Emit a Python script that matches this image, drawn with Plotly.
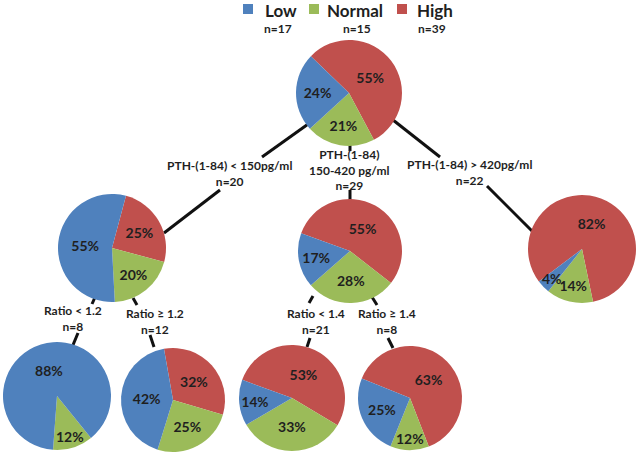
import math
import plotly.graph_objects as go

# ---------------- data ----------------
groups = ["Low", "Normal", "High"]
group_n = [17, 15, 39]

root_pct = [24, 21, 55]          # all patients
pth_low_pct = [55, 20, 25]       # PTH-(1-84) < 150
pth_mid_pct = [17, 28, 55]       # PTH-(1-84) 150-420
pth_high_pct = [4, 14, 82]       # PTH-(1-84) > 420
ratio_lt12_pct = [88, 12, 0]     # Ratio < 1.2
ratio_ge12_pct = [42, 25, 32]    # Ratio >= 1.2
ratio_lt14_pct = [14, 33, 53]    # Ratio < 1.4
ratio_ge14_pct = [25, 12, 63]    # Ratio >= 1.4

branch_labels = [
    "PTH-(1-84) < 150pg/ml<br>n=20",
    "PTH-(1-84)<br>150-420 pg/ml<br>n=29",
    "PTH-(1-84) > 420pg/ml<br>n=22",
    "Ratio < 1.2<br>n=8",
    "Ratio ≥ 1.2<br>n=12",
    "Ratio < 1.4<br>n=21",
    "Ratio ≥ 1.4<br>n=8",
]

# ---------------- style / layout ----------------
W, H = 637, 455
colors = {"Low": "#4F81BD", "Normal": "#9BBB59", "High": "#C0504D"}
FONT = "Lato, 'Open Sans', 'DejaVu Sans', sans-serif"
TXT = "#1f1f1f"
PCT_FONT = dict(family=FONT, size=14, color=TXT, weight="bold")

def px(x):
    return x / W

def py(y):
    return 1 - y / H

# node layout in pixels: (values, cx, cy, r, rotation)
nodes = [
    (root_pct, 349, 93, 53, 314),
    (pth_low_pct, 112, 248, 54, 15),
    (pth_mid_pct, 350, 251, 52, 290),
    (pth_high_pct, 582, 249, 54, 233),
    (ratio_lt12_pct, 57, 396, 54, 141),
    (ratio_ge12_pct, 173, 400, 52, 350),
    (ratio_lt14_pct, 292, 398, 53, 290),
    (ratio_ge14_pct, 410, 398, 52, 292),
]

fig = go.Figure()
annotations = []
for vals, cx, cy, r, rot in nodes:
    order = ["High", "Normal", "Low"]
    v = [vals[groups.index(g)] for g in order]
    labs = [g for g, val in zip(order, v) if val > 0]
    vv = [val for val in v if val > 0]
    total = sum(vv)
    texts = []
    ang = rot
    for val in vv:
        span = 360.0 * val / total
        mid = math.radians(ang + span / 2)
        ang += span
        if val <= 12:
            # thin slice: label kept full size, placed along the slice bisector
            texts.append("")
            annotations.append(dict(
                text=f"{val}%", xref="paper", yref="paper",
                x=px(cx + 0.78 * r * math.sin(mid)), y=py(cy - 0.78 * r * math.cos(mid)),
                xanchor="center", yanchor="middle", showarrow=False, font=PCT_FONT))
        else:
            texts.append(f"{val}%")
    fig.add_trace(go.Pie(
        labels=labs, values=vv, sort=False, direction="clockwise",
        rotation=rot, text=texts,
        marker=dict(colors=[colors[l] for l in labs], line=dict(width=0)),
        texttemplate="%{text}", textposition="inside",
        insidetextorientation="horizontal",
        textfont=PCT_FONT,
        domain=dict(x=[px(cx - r), px(cx + r)], y=[py(cy + r), py(cy - r)]),
        hoverinfo="skip", showlegend=False,
    ))

# connector segments (pixel coords)
segments = [
    ((311, 122), (262, 157)), ((220, 190), (164, 233)),
    ((350, 143), (350, 151)), ((350, 190), (350, 205)),
    ((393, 120), (440, 157)), ((487, 186), (532, 231)),
    ((96, 295), (92, 304)), ((78, 333), (73, 345)),
    ((133, 298), (137, 305)), ((150, 335), (154, 347)),
    ((313, 296), (309, 303)), ((310, 338), (307, 347)),
    ((372, 297), (377, 305)), ((388, 338), (393, 348)),
]
shapes = []
for (x0, y0), (x1, y1) in segments:
    shapes.append(dict(type="line", xref="paper", yref="paper",
                       x0=px(x0), y0=py(y0), x1=px(x1), y1=py(y1),
                       line=dict(color="#111111", width=3), layer="below"))

# legend squares
legend_sq = [(243, 4), (309, 4), (397, 4)]
for g, (sx, sy) in zip(groups, legend_sq):
    shapes.append(dict(type="rect", xref="paper", yref="paper",
                       x0=px(sx), x1=px(sx + 10), y0=py(sy + 10), y1=py(sy),
                       fillcolor=colors[g], line=dict(width=0)))

legend_txt_x = [263, 325, 415]
n_x = [278, 357, 432]
for g, n, tx, nx in zip(groups, group_n, legend_txt_x, n_x):
    annotations.append(dict(text=g, x=px(tx), y=py(10), xref="paper", yref="paper",
                            xanchor="left", yanchor="middle", showarrow=False,
                            font=dict(family=FONT, size=17, color=TXT, weight="bold")))
    annotations.append(dict(text=f"n={n}", x=px(nx), y=py(28), xref="paper", yref="paper",
                            xanchor="center", yanchor="middle", showarrow=False,
                            font=dict(family=FONT, size=12, color=TXT, weight="bold")))

branch_pos = [(229, 173), (349, 170), (470, 172), (73, 318), (155, 321), (316, 321), (387, 321)]
for t, (bx, by) in zip(branch_labels, branch_pos):
    annotations.append(dict(text=t, x=px(bx), y=py(by), xref="paper", yref="paper",
                            xanchor="center", yanchor="middle", showarrow=False,
                            font=dict(family=FONT, size=12, color=TXT, weight="bold")))

fig.update_layout(
    width=W, height=H, margin=dict(l=0, r=0, t=0, b=0),
    paper_bgcolor="white", plot_bgcolor="white",
    shapes=shapes, annotations=annotations,
)
fig.write_html("out.html", config={"displayModeBar": False},
               post_script="document.body.style.margin='0';")
